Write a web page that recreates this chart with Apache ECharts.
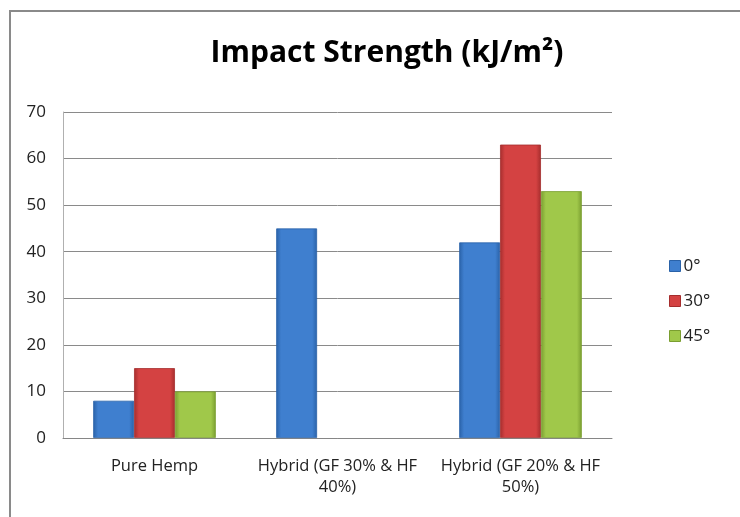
<!DOCTYPE html>
<html>
<head>
<meta charset="utf-8">
<script src="https://cdn.jsdelivr.net/npm/echarts@6/dist/echarts.min.js"></script>
<style>html,body{margin:0;padding:0;background:#fff}#c{width:740px;height:517px}</style>
</head>
<body>
<div id="c"></div>
<script>
const categories = ['Pure Hemp', 'Hybrid (GF 30% & HF\n40%)', 'Hybrid (GF 20% & HF\n50%)'];
const seriesNames = ['0°', '30°', '45°'];
const values0 = [8, 45, 42];
const values30 = [15, null, 63];
const values45 = [10, null, 53];
const yTicks = [0, 10, 20, 30, 40, 50, 60, 70];

const palettes = [
  ['#2a62a8', '#3f7fcf', '#2a62a8'],
  ['#a52d2d', '#d44242', '#a52d2d'],
  ['#7a9e30', '#a0c84a', '#7a9e30']
];
function grad(p) {
  return new echarts.graphic.LinearGradient(0, 0, 1, 0, [
    {offset: 0, color: p[0]}, {offset: 0.12, color: p[1]}, {offset: 0.88, color: p[1]}, {offset: 1, color: p[2]}
  ]);
}
const allValues = [values0, values30, values45];
const font = '"Open Sans", sans-serif';

const chart = echarts.init(document.getElementById('c'), null, {renderer: 'canvas'});
chart.setOption({
  backgroundColor: '#fff',
  animation: false,
  title: {
    text: 'Impact Strength (kJ/m²)',
    left: 382, top: 33, textAlign: 'center',
    textStyle: {fontFamily: font, fontWeight: 'bold', fontSize: 30, color: '#000'}
  },
  graphic: [{
    type: 'rect', shape: {x: 10, y: 11, width: 760, height: 540},
    style: {fill: 'none', stroke: '#8a8a8a', lineWidth: 2}, silent: true, z: -1
  }],
  legend: {
    orient: 'vertical', left: 664, top: 252, itemGap: 17,
    itemWidth: 11, itemHeight: 11,
    textStyle: {fontFamily: font, fontSize: 17, lineHeight: 18, color: '#222', padding: [0, 0, 0, -2]},
    data: seriesNames.map((n, i) => ({name: n, icon: 'rect', itemStyle: {color: palettes[i][1], borderColor: palettes[i][0], borderWidth: 1}}))
  },
  grid: {left: 63, right: 128, top: 112, bottom: 79},
  xAxis: {
    type: 'category', data: categories,
    axisLine: {lineStyle: {color: '#868686'}},
    axisTick: {show: false},
    axisLabel: {fontFamily: font, fontSize: 16.5, color: '#222', margin: 18, lineHeight: 21, interval: 0, hideOverlap: false}
  },
  yAxis: {
    type: 'value', min: yTicks[0], max: yTicks[yTicks.length - 1], interval: 10,
    axisLine: {show: true, lineStyle: {color: '#b0b0b0'}},
    axisTick: {show: false},
    splitLine: {lineStyle: {color: '#8a8a8a'}},
    axisLabel: {fontFamily: font, fontSize: 17, color: '#222', margin: 17}
  },
  series: seriesNames.map((n, i) => ({
    name: n, type: 'bar', data: allValues[i],
    barGap: '0%', barCategoryGap: '33%',
    itemStyle: {color: grad(palettes[i]), borderColor: palettes[i][0], borderWidth: 0.8}
  }))
});
</script>
</body>
</html>
